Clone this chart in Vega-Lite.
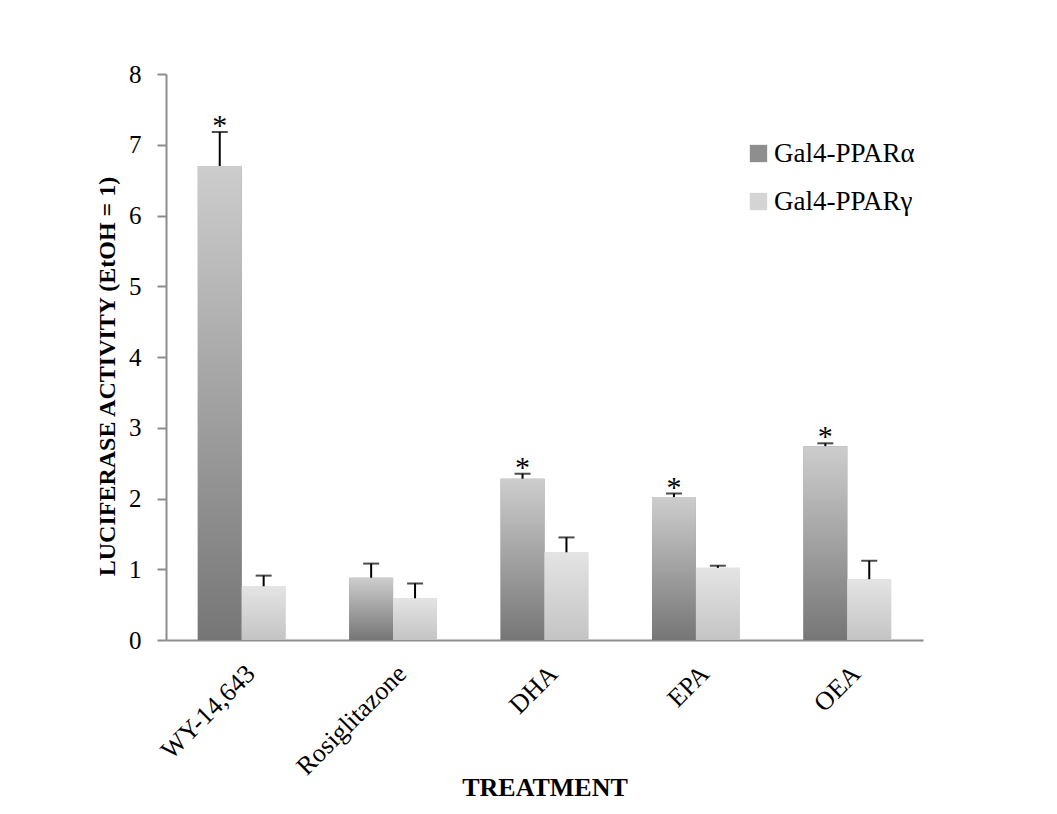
{
  "$schema": "https://vega.github.io/schema/vega-lite/v6.json",
  "width": 757,
  "height": 566,
  "autosize": {"type": "none"},
  "padding": {"left": 166, "top": 74, "right": 134, "bottom": 174},
  "background": "white",
  "config": {
    "view": {"stroke": null},
    "font": "Liberation Serif",
    "axis": {"labelFont": "Liberation Serif", "titleFont": "Liberation Serif", "labelColor": "black", "titleColor": "black"}
  },
  "data": {
    "values": [
      {"treatment": "WY-14,643", "receptor": "Gal4-PPARα", "value": 6.70, "upper": 7.18, "star": true},
      {"treatment": "WY-14,643", "receptor": "Gal4-PPARγ", "value": 0.76, "upper": 0.91, "star": false},
      {"treatment": "Rosiglitazone", "receptor": "Gal4-PPARα", "value": 0.88, "upper": 1.08, "star": false},
      {"treatment": "Rosiglitazone", "receptor": "Gal4-PPARγ", "value": 0.59, "upper": 0.80, "star": false},
      {"treatment": "DHA", "receptor": "Gal4-PPARα", "value": 2.28, "upper": 2.35, "star": true},
      {"treatment": "DHA", "receptor": "Gal4-PPARγ", "value": 1.24, "upper": 1.45, "star": false},
      {"treatment": "EPA", "receptor": "Gal4-PPARα", "value": 2.02, "upper": 2.07, "star": true},
      {"treatment": "EPA", "receptor": "Gal4-PPARγ", "value": 1.02, "upper": 1.05, "star": false},
      {"treatment": "OEA", "receptor": "Gal4-PPARα", "value": 2.74, "upper": 2.78, "star": true},
      {"treatment": "OEA", "receptor": "Gal4-PPARγ", "value": 0.86, "upper": 1.12, "star": false}
    ]
  },
  "encoding": {
    "x": {
      "field": "treatment",
      "type": "nominal",
      "sort": ["WY-14,643", "Rosiglitazone", "DHA", "EPA", "OEA"],
      "scale": {"paddingInner": 0.42, "paddingOuter": 0.21},
      "axis": {
        "title": "TREATMENT",
        "titleFontSize": 26,
        "titleFontWeight": "bold",
        "titleBaseline": "alphabetic",
        "titleY": 155,
        "labelAngle": -45,
        "labelFontSize": 26,
        "labelPadding": 20,
        "ticks": false,
        "domainColor": "#8c8c8c",
        "domainWidth": 2
      }
    },
    "xOffset": {"field": "receptor", "type": "nominal", "scale": {"domain": ["Gal4-PPARα", "Gal4-PPARγ"], "paddingInner": 0, "paddingOuter": 0}}
  },
  "layer": [
    {
      "mark": {"type": "bar", "strokeWidth": 0},
      "encoding": {
        "y": {
          "field": "value",
          "type": "quantitative",
          "scale": {"domain": [0, 8]},
          "axis": {
            "title": "LUCIFERASE ACTIVITY (EtOH = 1)",
            "titleFontSize": 24,
            "titleFontWeight": "bold",
            "titleBaseline": "alphabetic",
            "titleX": -52,
            "titleY": 302,
            "values": [0, 1, 2, 3, 4, 5, 6, 7, 8],
            "format": "d",
            "grid": false,
            "labelFontSize": 25,
            "labelPadding": 16,
            "tickSize": 9,
            "tickColor": "#8c8c8c",
            "tickWidth": 2,
            "domainColor": "#8c8c8c",
            "domainWidth": 2
          }
        },
        "fill": {
          "field": "receptor",
          "type": "nominal",
          "scale": {"domain": ["Gal4-PPARα", "Gal4-PPARγ"], "range": ["#8e8e8e", "#d4d4d4"]},
          "legend": {
            "title": null,
            "orient": "none",
            "legendX": 579,
            "legendY": 66,
            "symbolType": "square",
            "symbolSize": 300,
            "symbolStrokeWidth": 0,
            "symbolOpacity": 1,
            "labelFontSize": 27,
            "labelFont": "Liberation Serif",
            "labelColor": "black",
            "labelOffset": 2,
            "rowPadding": 20,
            "labelLimit": 300,
            "encode": {
              "symbols": {
                "update": {
                  "fill": {"signal": "datum.value === 'Gal4-PPARα' ? {gradient: 'linear', x1: 0, y1: 1, x2: 0, y2: 0, stops: [{offset: 0, color: '#5a5a5a'}, {offset: 1, color: '#ababab'}]} : {gradient: 'linear', x1: 0, y1: 1, x2: 0, y2: 0, stops: [{offset: 0, color: '#bdbdbd'}, {offset: 1, color: '#e2e2e2'}]}"}
                }
              }
            }
          }
        }
      }
    },
    {
      "mark": {"type": "bar", "strokeWidth": 0},
      "encoding": {
        "y": {"field": "value", "type": "quantitative"},
        "fill": {
          "condition": {
            "test": "datum.receptor === 'Gal4-PPARα'",
            "value": {"gradient": "linear", "x1": 0, "y1": 1, "x2": 0, "y2": 0, "stops": [{"offset": 0, "color": "#767676"}, {"offset": 1, "color": "#cdcdcd"}]}
          },
          "value": {"gradient": "linear", "x1": 0, "y1": 1, "x2": 0, "y2": 0, "stops": [{"offset": 0, "color": "#c4c4c4"}, {"offset": 1, "color": "#e4e4e4"}]}
        }
      }
    },
    {
      "mark": {"type": "rule", "color": "black", "strokeWidth": 2},
      "encoding": {
        "y": {"field": "value", "type": "quantitative"},
        "y2": {"field": "upper"}
      }
    },
    {
      "mark": {"type": "tick", "color": "black", "thickness": 2, "size": 16, "orient": "horizontal"},
      "encoding": {
        "y": {"field": "upper", "type": "quantitative"}
      }
    },
    {
      "transform": [{"filter": "datum.star"}],
      "mark": {"type": "text", "text": "*", "fontSize": 30, "baseline": "alphabetic", "dy": 3, "color": "black"},
      "encoding": {
        "y": {"field": "upper", "type": "quantitative"}
      }
    }
  ]
}
